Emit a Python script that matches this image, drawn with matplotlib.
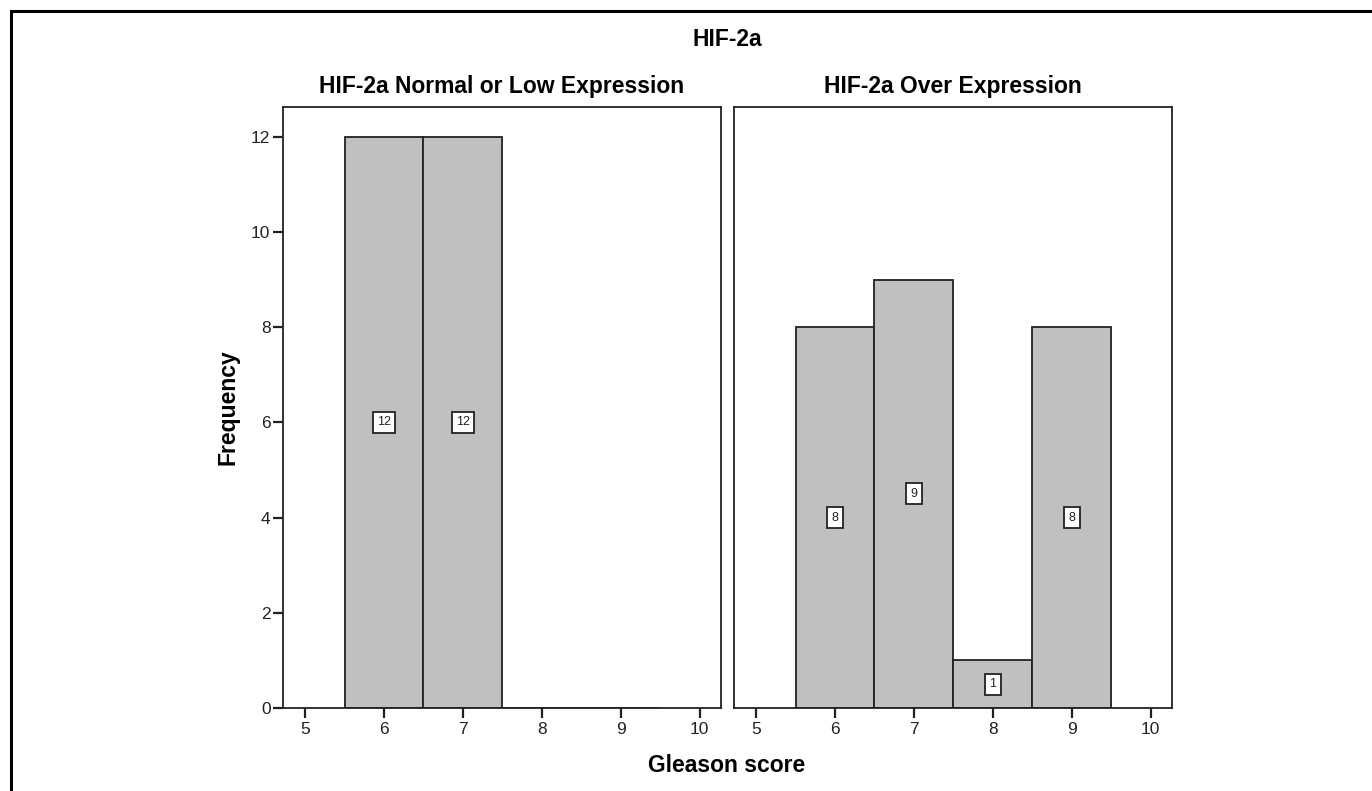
import matplotlib.pyplot as plt
from matplotlib.patches import Rectangle

# Дані
gleason = [6, 7, 8, 9]
low_counts = [12, 12, 0, 0]
over_counts = [8, 9, 1, 8]
panel_titles = ["HIF-2a Normal or Low Expression", "HIF-2a Over Expression"]
x_ticks = [5, 6, 7, 8, 9, 10]
y_ticks = [0, 2, 4, 6, 8, 10, 12]

plt.rcParams['font.family'] = ['Liberation Sans', 'DejaVu Sans']

fig = plt.figure(figsize=(13.72, 7.91), dpi=100)

# Рамка навколо всього рисунка
fig.patches.append(Rectangle((11 / 1372, -0.1), 1.2, 1.1 - 11 / 791, transform=fig.transFigure,
                             fill=False, edgecolor='black', linewidth=2.2))

ax1 = fig.add_axes([283 / 1372, 1 - 708 / 791, 438 / 1372, 601 / 791])
ax2 = fig.add_axes([734 / 1372, 1 - 708 / 791, 438 / 1372, 601 / 791])

for ax, counts, title in zip([ax1, ax2], [low_counts, over_counts], panel_titles):
    bars = ax.bar(gleason, counts, width=1.0, color='#C0C0C0', edgecolor='#222222', linewidth=1.3)
    for b, v in zip(bars, counts):
        if v > 0:
            ax.text(b.get_x() + b.get_width() / 2, v / 2, str(v), ha='center', va='center',
                    fontsize=9, color='#222222',
                    bbox=dict(boxstyle='square,pad=0.35', facecolor='white', edgecolor='#222222', linewidth=1.3))
    ax.set_xlim(4.72, 10.27)
    ax.set_ylim(0, 12.63)
    ax.set_xticks(x_ticks)
    ax.set_title(title, fontsize=16.5, fontweight='bold', pad=10)
    for s in ax.spines.values():
        s.set_linewidth(1.3)
        s.set_color('#222222')
    ax.tick_params(axis='x', direction='out', length=7, width=1.6, labelsize=12.5, colors='#222222', pad=3)

ax1.set_yticks(y_ticks)
ax1.tick_params(axis='y', direction='out', length=7, width=1.6, labelsize=12.5, colors='#222222', pad=2)
ax2.set_yticks([])

fig.text(727 / 1372, 1 - 40 / 791, "HIF-2a", ha='center', va='center', fontsize=16.5, fontweight='bold')
fig.text(727 / 1372, 1 - 765 / 791, "Gleason score", ha='center', va='center', fontsize=16.5, fontweight='bold')
fig.text(228 / 1372, 1 - 407 / 791, "Frequency", ha='center', va='center', rotation=90,
         fontsize=16.5, fontweight='bold')

plt.savefig('out.png', dpi=100)
